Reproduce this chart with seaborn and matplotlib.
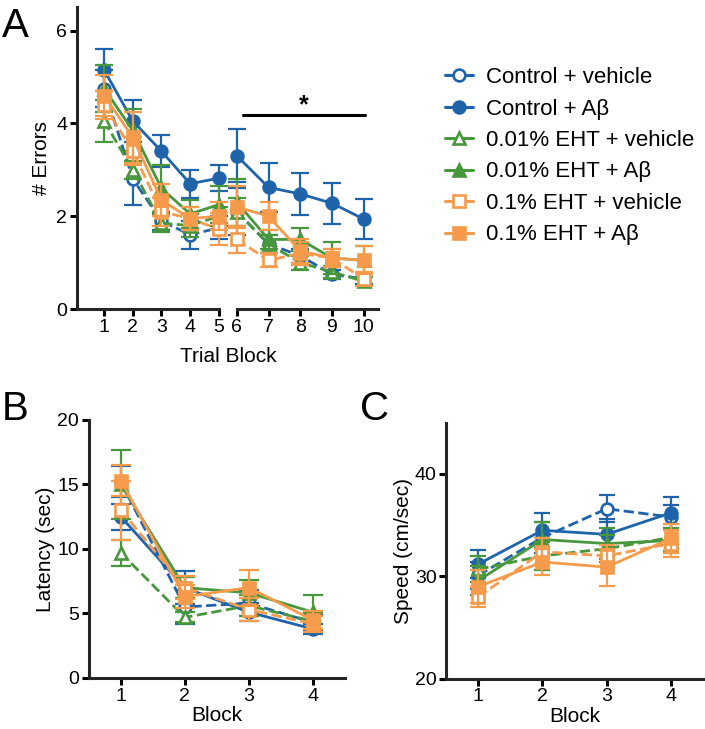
import numpy as np
import pandas as pd
import matplotlib
matplotlib.use("Agg")
import matplotlib.pyplot as plt
from matplotlib.lines import Line2D
import seaborn as sns

groups = ["Control + vehicle", "Control + Aβ", "0.01% EHT + vehicle",
          "0.01% EHT + Aβ", "0.1% EHT + vehicle", "0.1% EHT + Aβ"]
colors = ["#1F64AA", "#1F64AA", "#48973C", "#48973C", "#F59B4B", "#F59B4B"]
markers = ["o", "o", "^", "^", "s", "s"]
filled = [False, True, False, True, False, True]

# ---- panel A: errors per trial block ----
trial_blocks = [1, 2, 3, 4, 5, 6, 7, 8, 9, 10]
errors_mean = [
    [4.75, 2.80, 1.90, 1.60, 1.75, 2.10, 1.40, 1.15, 0.75, 0.65],
    [5.15, 4.05, 3.40, 2.70, 2.82, 3.30, 2.62, 2.48, 2.28, 1.94],
    [4.05, 3.00, 1.85, 1.80, 2.00, 2.10, 1.40, 1.00, 0.80, 0.60],
    [4.75, 3.85, 2.60, 2.05, 2.25, 2.30, 1.50, 1.50, 1.10, 1.05],
    [4.40, 3.40, 2.10, 1.95, 1.72, 1.50, 1.05, 1.20, 1.10, 0.65],
    [4.60, 3.70, 2.35, 1.95, 2.00, 2.20, 2.00, 1.25, 1.10, 1.05],
]
errors_sem = [
    [0.40, 0.55, 0.20, 0.30, 0.25, 0.50, 0.20, 0.15, 0.10, 0.10],
    [0.45, 0.45, 0.34, 0.30, 0.28, 0.57, 0.52, 0.46, 0.44, 0.44],
    [0.45, 0.20, 0.20, 0.25, 0.20, 0.30, 0.20, 0.15, 0.12, 0.10],
    [0.50, 0.45, 0.50, 0.30, 0.40, 0.50, 0.20, 0.25, 0.35, 0.30],
    [0.30, 0.30, 0.30, 0.25, 0.35, 0.30, 0.15, 0.25, 0.20, 0.15],
    [0.45, 0.55, 0.35, 0.25, 0.30, 0.45, 0.30, 0.25, 0.20, 0.30],
]

# ---- panel B / C: latency and speed per block ----
blocks = [1, 2, 3, 4]
latency_mean = [
    [15.2, 5.5, 5.8, 4.3],
    [12.5, 7.0, 5.1, 3.8],
    [9.7, 4.7, 5.6, 4.4],
    [15.0, 7.0, 6.6, 5.1],
    [13.0, 7.0, 5.3, 4.2],
    [15.3, 6.3, 7.0, 4.5],
]
latency_sem = [
    [1.2, 1.3, 1.0, 0.6],
    [1.0, 1.3, 0.7, 0.4],
    [1.0, 0.4, 0.8, 0.6],
    [2.7, 0.8, 1.0, 1.3],
    [2.3, 0.9, 0.9, 0.6],
    [1.2, 0.9, 1.4, 0.7],
]
speed_mean = [
    [30.1, 33.8, 36.6, 35.8],
    [31.2, 34.5, 34.1, 36.2],
    [30.7, 32.0, 32.7, 33.8],
    [29.6, 33.6, 33.2, 33.5],
    [28.0, 32.4, 32.0, 33.2],
    [29.0, 31.4, 30.9, 33.7],
]
speed_sem = [
    [1.3, 1.5, 1.3, 1.2],
    [1.4, 1.7, 1.5, 1.6],
    [1.3, 1.4, 1.3, 1.3],
    [1.4, 1.7, 1.5, 1.2],
    [1.0, 1.3, 1.1, 1.3],
    [1.6, 1.3, 1.8, 1.4],
]

sns.set_theme(style="ticks")
plt.rcParams['font.family'] = ['Liberation Sans', 'DejaVu Sans']
plt.rcParams['axes.linewidth'] = 2.2
plt.rcParams['text.color'] = 'black'
plt.rcParams['axes.labelcolor'] = 'black'

fig = plt.figure(figsize=(7.05, 7.29), dpi=100)
axA1 = fig.add_axes([0.109, 0.576, 0.2014, 0.414])
axA2 = fig.add_axes([0.336, 0.576, 0.200, 0.414])
axB = fig.add_axes([0.126, 0.070, 0.363, 0.354])
axC = fig.add_axes([0.633, 0.069, 0.364, 0.351])


def draw(ax, x, means, sems, capsize):
    for i, g in enumerate(groups):
        ls = '-' if filled[i] else '--'
        mfc = colors[i] if filled[i] else 'white'
        ax.errorbar(x, means[i], yerr=sems[i], fmt='none', ecolor=colors[i],
                    elinewidth=1.6, capsize=capsize, capthick=1.6, clip_on=False)
        sns.lineplot(x=x, y=means[i], ax=ax, color=colors[i], linestyle=ls,
                     linewidth=2.0, marker=markers[i], markersize=8.5,
                     markerfacecolor=mfc, markeredgecolor=colors[i],
                     markeredgewidth=1.9, clip_on=False, legend=False)


draw(axA1, trial_blocks[:5], [m[:5] for m in errors_mean], [s[:5] for s in errors_sem], 6.5)
draw(axA2, trial_blocks[5:], [m[5:] for m in errors_mean], [s[5:] for s in errors_sem], 6.5)
draw(axB, blocks, latency_mean, latency_sem, 7)
draw(axC, blocks, speed_mean, speed_sem, 5.5)

for ax in [axA1, axA2, axB, axC]:
    sns.despine(ax=ax)
    ax.tick_params(labelsize=14, length=5, width=2.2, colors='black', pad=2)
    ax.set_xlabel('')
    ax.set_ylabel('')

axA1.set_xlim(0.05, 5)
axA1.set_ylim(0, 6.5)
axA1.set_xticks(trial_blocks[:5])
axA1.set_yticks([0, 2, 4, 6])
axA1.set_ylabel("# Errors", fontsize=15)

axA2.set_xlim(6, 10.45)
axA2.set_ylim(0, 6.5)
axA2.set_xticks(trial_blocks[5:])
axA2.spines['left'].set_visible(False)
axA2.tick_params(axis='y', left=False, labelleft=False)
axA2.plot([6.19, 10.03], [4.18, 4.18], color='black', lw=2.2, clip_on=False)
axA2.text(8.1, 4.12, '*', fontsize=18, fontweight='bold', ha='center', va='bottom')
fig.text(228 / 705, 1 - 357 / 729, "Trial Block", fontsize=15, ha='center', va='center')

axB.set_xlim(0.5, 4.5)
axB.set_ylim(0, 20)
axB.set_xticks(blocks)
axB.set_yticks([0, 5, 10, 15, 20])
axB.set_xlabel("Block", fontsize=15, labelpad=1)
axB.set_ylabel("Latency (sec)", fontsize=15, labelpad=2)

axC.set_xlim(0.5, 4.5)
axC.set_ylim(20, 45)
axC.set_xticks(blocks)
axC.set_yticks([20, 30, 40])
axC.set_xlabel("Block", fontsize=15, labelpad=1)
axC.set_ylabel("Speed (cm/sec)", fontsize=15, labelpad=1)

handles = [Line2D([], [], color=colors[i], marker=markers[i], markersize=8.5,
                  markerfacecolor=colors[i] if filled[i] else 'white',
                  markeredgewidth=1.9, lw=2.2) for i in range(len(groups))]
fig.legend(handles, groups, loc='upper left', bbox_to_anchor=(0.631, 0.908),
           frameon=False, fontsize=16, handlelength=1.25, handletextpad=0.6,
           labelspacing=0.47, borderpad=0, borderaxespad=0)

fig.text(0.003, 1 - 7 / 729, "A", fontsize=29, va='top', ha='left')
fig.text(0.003, 1 - 390 / 729, "B", fontsize=29, va='top', ha='left')
fig.text(360 / 705, 1 - 390 / 729, "C", fontsize=29, va='top', ha='left')

fig.savefig("out.png", dpi=100)
